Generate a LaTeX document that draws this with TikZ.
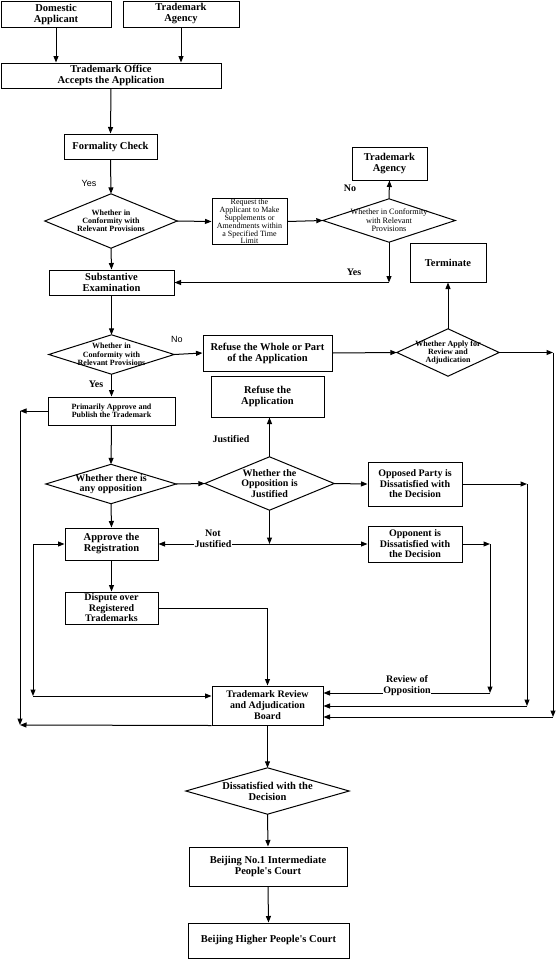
\documentclass[tikz,border=0pt]{standalone}
\usepackage{fontspec}
\setmainfont{Liberation Serif}
\newfontfamily\lsans{Liberation Sans}
\usetikzlibrary{arrows.meta}
\tikzset{
  box/.style={draw, line width=1pt, inner sep=0pt, align=center, font=\bfseries\fontsize{10.5}{11}\selectfont},
  dia/.style={inner sep=0pt, align=center, font=\bfseries\fontsize{10}{10.6}\selectfont},
  ln/.style={line width=1pt},
  arr/.style={line width=1pt, -{Triangle[length=6.5pt,width=5pt]}},
  lbl/.style={inner sep=0.5pt, align=center, font=\bfseries\fontsize{10}{11}\selectfont},
  slbl/.style={inner sep=0.5pt, font=\lsans\fontsize{9}{10}\selectfont},
  small/.style={font=\bfseries\fontsize{8}{8.2}\selectfont},
  tiny/.style={font=\fontsize{8}{7.9}\selectfont}
}
\begin{document}
\begin{tikzpicture}[x=1pt,y=-1pt]
\useasboundingbox (0,0) rectangle (557,961);
% boxes
\node[box, minimum width=110pt, minimum height=26pt] (dom) at (56,14) {Domestic\\Applicant};
\node[box, minimum width=116pt, minimum height=26pt] (agency) at (181,14) {Trademark\\Agency};
\node[box, minimum width=220pt, minimum height=25pt] (office) at (111,75.5) {Trademark Office\\Accepts the Application};
\node[box, minimum width=93pt, minimum height=25pt] (formal) at (110.5,146.5) {Formality Check};
\node[dia, small, minimum width=132pt, minimum height=54pt] (d1) at (111,221) {Whether in\\Conformity with\\Relevant Provisions};
\node[box, tiny, minimum width=75pt, minimum height=29pt] (request) at (249.5,221.5) {Request the\\Applicant to Make\\Supplements or\\Amendments within\\a Specified Time\\Limit};
\node[dia, font=\fontsize{8.2}{8.5}\selectfont, minimum width=132pt, minimum height=43pt] (d2) at (389,220.5) {Whether in Conformity\\with Relevant\\Provisions};
\node[box, minimum width=75pt, minimum height=33pt] (ag2) at (389.5,163.5) {Trademark\\Agency};
\node[box, minimum width=125pt, minimum height=25pt] (subst) at (111.5,282.5) {Substantive\\Examination};
\node[dia, font=\bfseries\fontsize{8}{8.5}\selectfont, minimum width=125pt, minimum height=39pt] (d3) at (111.5,354.5) {Whether in\\Conformity with\\Relevant Provisions};
\node[box, minimum width=129pt, minimum height=36pt] (refwhole) at (267.5,353) {Refuse the Whole or Part\\of the Application};
\node[dia, small, minimum width=102pt, minimum height=47pt] (d4) at (448,352.5) {Whether Apply for\\Review and\\Adjudication};
\node[box, minimum width=76pt, minimum height=39pt] (term) at (448,262.5) {Terminate};
\node[box, small, minimum width=127pt, minimum height=28pt] (prim) at (111.5,411) {Primarily Approve and\\Publish the Trademark};
\node[box, minimum width=113pt, minimum height=41pt] (refapp) at (267.5,396.5) {Refuse the\\Application};
\node[dia, minimum width=130pt, minimum height=39pt] (d5) at (111,484) {Whether there is\\any opposition};
\node[dia, minimum width=129pt, minimum height=53pt] (d6) at (269.5,483.5) {Whether the\\Opposition is\\Justified};
\node[box, font=\bfseries\fontsize{10}{10.5}\selectfont, minimum width=94pt, minimum height=44pt] (opposed) at (415,484) {Opposed Party is\\Dissatisfied with\\the Decision};
\node[box, font=\bfseries\fontsize{10}{10.5}\selectfont, minimum width=94pt, minimum height=36pt] (opponent) at (415,544) {Opponent is\\Dissatisfied with\\the Decision};
\node[box, minimum width=93pt, minimum height=32pt] (approve) at (111.5,544) {Approve the\\Registration};
\node[box, font=\bfseries\fontsize{10}{10.5}\selectfont, minimum width=93pt, minimum height=32pt] (dispute) at (111.5,608) {Dispute over\\Registered\\Trademarks};
\node[box, font=\bfseries\fontsize{10}{11}\selectfont, minimum width=111pt, minimum height=39pt] (board) at (267.5,705.5) {Trademark Review\\and Adjudication\\Board};
\node[dia, font=\bfseries\fontsize{10.5}{11}\selectfont, minimum width=163pt, minimum height=46pt] (d7) at (267.5,791) {Dissatisfied with the\\Decision};
\node[box, minimum width=158pt, minimum height=39pt] (bj1) at (268,866.5) {Beijing No.1 Intermediate\\People\textquotesingle s Court};
\node[box, minimum width=161pt, minimum height=35pt] (bj2) at (268.5,940.5) {Beijing Higher People\textquotesingle s Court};
% diamonds outlines
\foreach \d in {d1,d2,d3,d4,d5,d6,d7}
  \draw[ln] (\d.north) -- (\d.east) -- (\d.south) -- (\d.west) -- cycle;
% coordinates
\coordinate (c1) at (d2.south |- subst.east);
\coordinate (r3) at (553,352.5);
\coordinate (r3b) at (553,717);
\coordinate (r2) at (527,484);
\coordinate (r2b) at (527,706);
\coordinate (r1) at (490,544);
\coordinate (r1b) at (490,693);
\coordinate (L1) at (20,411);
\coordinate (L2) at (20,725);
\coordinate (L3) at (33,544);
\coordinate (L4) at (33,696);
\coordinate (J) at (d6.south |- approve.east);
\coordinate (K) at (dispute.east -| board.north);
% connectors
\draw[arr] (dom.south) -- (dom.south |- office.north);
\draw[arr] (agency.south) -- (agency.south |- office.north);
\draw[arr] (office.south) -- (formal.north);
\draw[arr] (formal.south) -- (d1.north);
\draw[arr] (d1.east) -- (request.west);
\draw[arr] (request.east) -- (d2.west);
\draw[arr] (d2.north) -- (ag2.south);
\draw[arr] (d2.south) -- (c1);
\draw[arr] (c1) -- (subst.east);
\draw[arr] (d1.south) -- (subst.north);
\draw[arr] (subst.south) -- (d3.north);
\draw[arr] (d3.east) -- (refwhole.west);
\draw[arr] (refwhole.east) -- (d4.west);
\draw[arr] (d4.north) -- (term.south);
\draw[arr] (d4.east) -- (r3);
\draw[arr] (r3) -- (r3b);
\draw[arr] (r3b) -- (r3b -| board.east);
\draw[arr] (d3.south) -- (prim.north);
\draw[arr] (prim.west) -- (L1);
\draw[arr] (L1) -- (L2);
\draw[arr] (board.south west) -- (L2);
\draw[arr] (prim.south) -- (d5.north);
\draw[arr] (d5.east) -- (d6.west);
\draw[arr] (d6.north) -- (d6.north |- refapp.south);
\draw[arr] (d6.east) -- (opposed.west);
\draw[arr] (opposed.east) -- (r2);
\draw[arr] (r2) -- (r2b);
\draw[arr] (r2b) -- (r2b -| board.east);
\draw[arr] (d6.south) -- (J);
\draw[arr] (J) -- (approve.east);
\draw[arr] (J) -- (opponent.west);
\draw[arr] (opponent.east) -- (r1);
\draw[arr] (r1) -- (r1b);
\draw[arr] (r1b) -- (r1b -| board.east);
\draw[arr] (d5.south) -- (approve.north);
\draw[arr] (approve.south) -- (dispute.north);
\draw[arr] (L3) -- (approve.west);
\draw[arr] (L3) -- (L4);
\draw[arr] (L4) -- (L4 -| board.west);
\draw[ln] (dispute.east) -- (K);
\draw[arr] (K) -- (board.north);
\draw[arr] (board.south) -- (d7.north);
\draw[arr] (d7.south) -- (bj1.north);
\draw[arr] (bj1.south) -- (bj2.north);
% labels
\node[slbl] (yes1) at (89,183) {Yes};
\node[lbl] (no1) at (350,188) {No};
\node[lbl] (yes2) at (354,272) {Yes};
\node[slbl] (no2) at (177,339) {No};
\node[lbl] (yes3) at (96,384) {Yes};
\node[lbl] (just) at (231,439) {Justified};
\node[lbl, fill=white] (notjust) at (213,538.5) {Not\\Justified};
\node[lbl, fill=white] (revopp) at (407,685.5) {Review of\\Opposition};
\end{tikzpicture}
\end{document}
